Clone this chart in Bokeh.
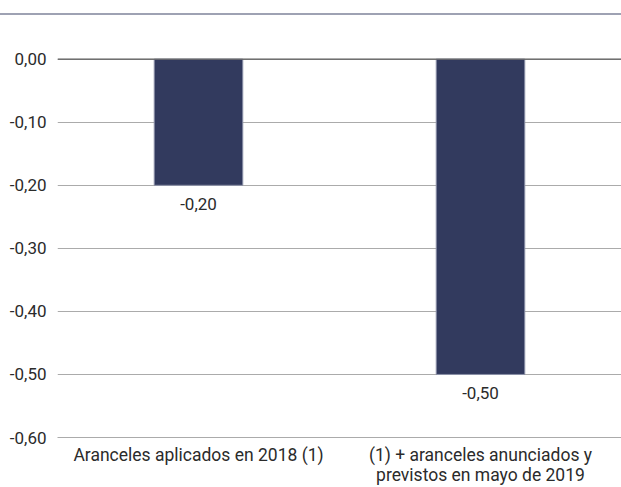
from bokeh.plotting import figure
from bokeh.models import (ColumnDataSource, Range1d, FixedTicker, Span,
                          FactorRange)
from bokeh.core.properties import value
from bokeh.embed import file_html
from bokeh.resources import INLINE

# ---- data ----
categories = ["Aranceles aplicados en 2018 (1)",
              "(1) + aranceles anunciados y\nprevistos en mayo de 2019"]
values = [-0.20, -0.50]
value_labels = ["-0,20", "-0,50"]
y_ticks = [0.0, -0.1, -0.2, -0.3, -0.4, -0.5, -0.6]
y_tick_labels = ["0,00", "-0,10", "-0,20", "-0,30", "-0,40", "-0,50", "-0,60"]

FONT = "Roboto"
BAR = "#323a5e"
GRID = "#ababab"

src = ColumnDataSource(dict(cat=categories, val=values, lab=value_labels,
                            zero=[0] * len(values)))

p = figure(x_range=FactorRange(*categories), y_range=Range1d(-0.6, 0.0693),
           width=621, height=472, output_backend="svg", toolbar_location=None,
           min_border_left=57, min_border_right=0, min_border_top=0,
           min_border_bottom=47)
p.styles = {"margin-top": "13px", "border-top": "2px solid #9ea2b3"}
p.outline_line_color = None
p.background_fill_color = "white"
p.border_fill_color = "white"

p.vbar(x="cat", top="zero", bottom="val", width=0.314, source=src,
       fill_color=BAR, line_color="#8c91a8", line_width=1)

p.text(x="cat", y="val", text="lab", source=src, text_align="center",
       text_baseline="top", y_offset=13, text_font=value(FONT),
       text_font_size="17px", text_color="#2b2b2b")

# zero line
p.add_layout(Span(location=0, dimension="width", line_color="#5c5c5c",
                  line_width=1.2))

# y axis
p.yaxis.ticker = FixedTicker(ticks=y_ticks)
p.yaxis.major_label_overrides = {t: l for t, l in zip(y_ticks, y_tick_labels)}
p.yaxis.axis_line_color = None
p.yaxis.major_tick_line_color = None
p.yaxis.minor_tick_line_color = None
p.yaxis.major_label_standoff = 5
p.yaxis.major_label_text_font = FONT
p.yaxis.major_label_text_font_size = "17px"
p.yaxis.major_label_text_color = "#2b2b2b"

# x axis
p.xaxis.axis_line_color = GRID
p.xaxis.major_tick_line_color = None
p.xaxis.major_label_standoff = 1
p.xaxis.major_label_text_font = FONT
p.xaxis.major_label_text_font_size = "17.5px"
p.xaxis.major_label_text_line_height = 1.0
p.xaxis.major_label_text_color = "#2b2b2b"
p.xaxis.major_label_orientation = "horizontal"

p.xgrid.grid_line_color = None
p.ygrid.grid_line_color = GRID
p.ygrid.grid_line_width = 1

open("out.html", "w").write(file_html(p, INLINE))
